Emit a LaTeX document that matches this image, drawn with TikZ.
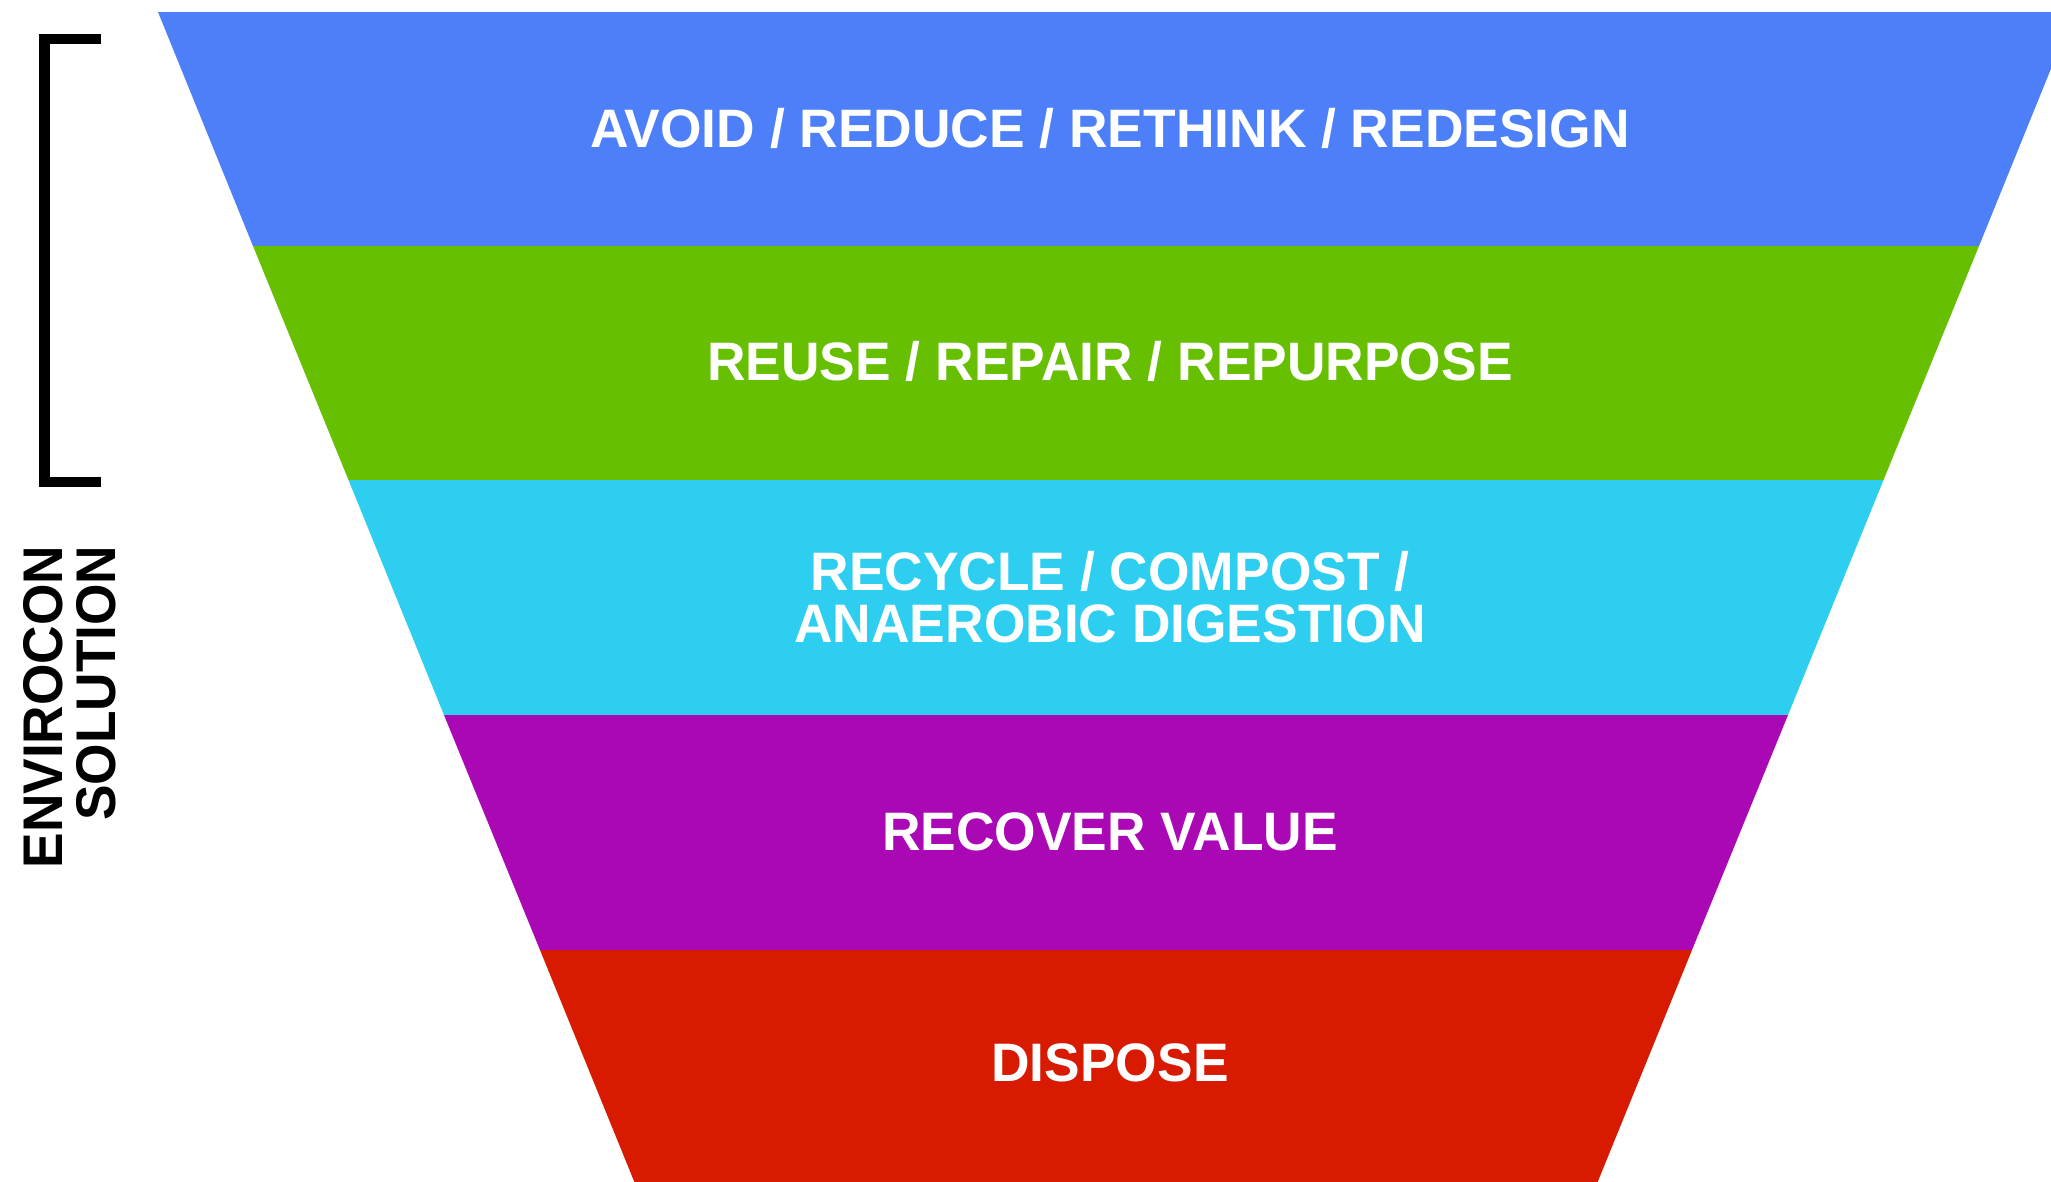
\documentclass[tikz,border=0pt]{standalone}
\usepackage{fontspec}
\setmainfont{Liberation Sans}
\definecolor{bandA}{HTML}{4D80F8}
\definecolor{bandB}{HTML}{66BF00}
\definecolor{bandC}{HTML}{2ECEF0}
\definecolor{bandD}{HTML}{AA07B5}
\definecolor{bandE}{HTML}{D71A00}
\tikzset{
  bandlabel/.style={text=white, font=\fontsize{15.4pt}{14.8pt}\selectfont\bfseries, inner sep=0pt, align=center, anchor=center, xscale=0.985},
  sidelabel/.style={text=black, font=\fontsize{15.9pt}{15pt}\selectfont\bfseries, inner sep=0pt, rotate=90, xscale=0.953, anchor=base east},
  bracketline/.style={draw=black, line width=0.1cm, line cap=butt, line join=miter}
}
\begin{document}
\begin{tikzpicture}[x=0.01cm,y=-0.01cm]
\useasboundingbox (0,0) rectangle (2051,1181);
\clip (0,0) rectangle (2051,1181);
\fill[white] (0,0) rectangle (2051,1181);
% funnel bands
\fill[bandA] (158,12) -- (2074,12) -- (1979,246) -- (253,246) -- cycle;
\fill[bandB] (253,246) -- (1979,246) -- (1883.5,480) -- (348.5,480) -- cycle;
\fill[bandC] (348.5,480) -- (1883.5,480) -- (1788,715) -- (444,715) -- cycle;
\fill[bandD] (444,715) -- (1788,715) -- (1692,950) -- (540,950) -- cycle;
\fill[bandE] (540,950) -- (1692,950) -- (1596,1186) -- (636,1186) -- cycle;
% labels
\node[bandlabel] (avoid) at (1110,128) {AVOID / REDUCE / RETHINK / REDESIGN};
\node[bandlabel] (reuse) at (1110,361.5) {REUSE / REPAIR / REPURPOSE};
\node[bandlabel] (recycle) at (1110,597) {RECYCLE / COMPOST /\\ANAEROBIC DIGESTION};
\node[bandlabel] (recover) at (1110,832) {RECOVER VALUE};
\node[bandlabel] (dispose) at (1110,1063) {DISPOSE};
% bracket
\coordinate (brtop) at (101,39);
\coordinate (brbot) at (101,482);
\draw[bracketline] (brtop) -- (44.5,39) -- (44.5,482) -- (brbot);
% side label
\node[sidelabel] (envirocon) at (62,545) {ENVIROCON};
\node[sidelabel] (solution) at (115,545) {SOLUTION};
\end{tikzpicture}
\end{document}
